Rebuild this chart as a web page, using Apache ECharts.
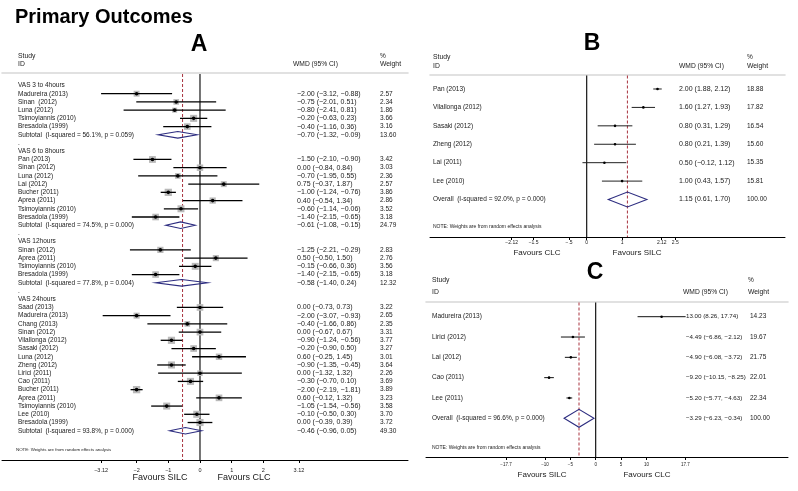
<!DOCTYPE html>
<html><head><meta charset="utf-8">
<script src="https://cdn.jsdelivr.net/npm/echarts@6/dist/echarts.min.js"></script>
<style>html,body{margin:0;padding:0;background:#fff}#c{width:798px;height:491px}</style>
</head><body><div id="c"></div>
<script>
// ---------- Panel A : VAS ----------
const groupsA = ['VAS 3 to 4hours','VAS 6 to 8hours','VAS 12hours','VAS 24hours'];
const studyA = ['Madureira (2013)','Sinan  (2012)','Luna (2012)','Tsimoyiannis (2010)','Bresadola (1999)',
  'Pan (2013)','Sinan (2012)','Luna (2012)','Lai (2012)','Bucher (2011)','Aprea (2011)','Tsimoyiannis (2010)','Bresadola (1999)',
  'Sinan (2012)','Aprea (2011)','Tsimoyiannis (2010)','Bresadola (1999)',
  'Saad (2013)','Madureira (2013)','Chang (2013)','Sinan (2012)','Vilallonga (2012)','Sasaki (2012)','Luna (2012)','Zheng (2012)','Lirici (2011)','Cao (2011)','Bucher (2011)','Aprea (2011)','Tsimoyiannis (2010)','Lee (2010)','Bresadola (1999)'];
const groupOfA = [0,0,0,0,0, 1,1,1,1,1,1,1,1, 2,2,2,2, 3,3,3,3,3,3,3,3,3,3,3,3,3,3,3];
const estA = [-2.00,-0.75,-0.80,-0.20,-0.40, -1.50,0.00,-0.70,0.75,-1.00,0.40,-0.60,-1.40, -1.25,0.50,-0.15,-1.40,
  0.00,-2.00,-0.40,0.00,-0.90,-0.20,0.60,-0.90,0.00,-0.30,-2.00,0.60,-1.05,-0.10,0.00];
const loA = [-3.12,-2.01,-2.41,-0.63,-1.16, -2.10,-0.84,-1.95,-0.37,-1.24,-0.54,-1.14,-2.15, -2.21,-0.50,-0.66,-2.15,
  -0.73,-3.07,-1.66,-0.67,-1.24,-0.90,-0.25,-1.35,-1.32,-0.70,-2.19,-0.12,-1.54,-0.50,-0.39];
const hiA = [-0.88,0.51,0.81,0.23,0.36, -0.90,0.84,0.55,1.87,-0.76,1.34,-0.06,-0.65, -0.29,1.50,0.36,-0.65,
  0.73,-0.93,0.86,0.67,-0.56,0.50,1.45,-0.45,1.32,0.10,-1.81,1.32,-0.56,0.30,0.39];
const wA = [2.57,2.34,1.86,3.66,3.16, 3.42,3.03,2.36,2.57,3.86,2.86,3.52,3.18, 2.83,2.76,3.56,3.18,
  3.22,2.65,2.35,3.31,3.77,3.27,3.01,3.64,2.26,3.69,3.89,3.23,3.58,3.70,3.72];
const subEstA = [-0.70,-0.61,-0.58,-0.46];
const subLoA = [-1.32,-1.08,-1.40,-0.96];
const subHiA = [-0.09,-0.15,0.24,0.05];
const subWA = [13.60,24.79,12.32,49.30];
const subI2A = [56.1,74.5,77.8,93.8];
const subPA = [0.059,0.000,0.004,0.000];
const refLinesA = [0, -0.55];
const ticksA = [-3.12,-2,-1,0,1,2,3.12];

// ---------- Panel B ----------
const studyB = ['Pan (2013)','Vilallonga (2012)','Sasaki (2012)','Zheng (2012)','Lai (2011)','Lee (2010)'];
const estB = [2.00,1.60,0.80,0.80,0.50,1.00];
const loB = [1.88,1.27,0.31,0.21,-0.12,0.43];
const hiB = [2.12,1.93,1.29,1.39,1.12,1.57];
const wB = [18.88,17.82,16.54,15.60,15.35,15.81];
const overallB = [1.15,0.61,1.70,100.00,92.0,0.000]; // est, lo, hi, weight, I2, p
const refLinesB = [0, 1.15];
const ticksB = [-2.12,-1.5,-0.5,0,1,2.12,2.5];

// ---------- Panel C ----------
const studyC = ['Madureira (2013)','Lirici (2012)','Lai (2012)','Cao (2011)','Lee (2011)'];
const estC = [13.00,-4.49,-4.90,-9.20,-5.20];
const loC = [8.26,-6.86,-6.08,-10.15,-5.77];
const hiC = [17.74,-2.12,-3.72,-8.25,-4.63];
const wC = [14.23,19.67,21.75,22.01,22.34];
const overallC = [-3.29,-6.23,-0.34,100.00,96.6,0.000];
const refLinesC = [0, -3.29];
const ticksC = [-17.7,-10,-5,0,5,10,17.7];

// ---------- helpers ----------
const FF = '"Liberation Sans", Arial, sans-serif';
const TXT = '#1a1a1a';
const fmt = v => (v < 0 ? '\u2212' : '') + Math.abs(v).toFixed(2);
const ciText = (e, l, h) => fmt(e) + ' (' + fmt(l) + ', ' + fmt(h) + ')';
const hetText = (lab, i2, p) => lab + '  (I-squared = ' + i2.toFixed(1) + '%, p = ' + p.toFixed(3) + ')';
const tickFmt = v => {
  if (v === 0) return '0';
  let s = String(Math.abs(v));
  if (Math.abs(v) < 1) s = s.replace(/^0/, '');
  return (v < 0 ? '\u2212' : '') + s;
};

// rows for A
const rowsA = []; let r = 0;
groupsA.forEach((g, gi) => {
  rowsA.push({kind:'head', row:r++, label:g});
  studyA.forEach((s, i) => { if (groupOfA[i] === gi) rowsA.push({kind:'study', row:r++, label:s, est:estA[i], lo:loA[i], hi:hiA[i], w:wA[i]}); });
  rowsA.push({kind:'sub', row:r++, label:hetText('Subtotal', subI2A[gi], subPA[gi]), est:subEstA[gi], lo:subLoA[gi], hi:subHiA[gi], w:subWA[gi]});
  if (gi < groupsA.length - 1) rowsA.push({kind:'head', row:r++, label:'.'});
});
function simpleRows(names, est, lo, hi, w, ov) {
  const rows = names.map((s, i) => ({kind:'study', row:i, label:s, est:est[i], lo:lo[i], hi:hi[i], w:w[i]}));
  rows.push({kind:'sub', row:names.length, label:hetText('Overall', ov[4], ov[5]), est:ov[0], lo:ov[1], hi:ov[2], w:ov[3]});
  return rows;
}
const rowsB = simpleRows(studyB, estB, loB, hiB, wB, overallB);
const rowsC = simpleRows(studyC, estC, loC, hiC, wC, overallC);

// panel layout (pixels / styles only)
const P = {
  A: {grid:{left:2, top:73, width:406, height:387}, xr:[-6.246, 6.562], yr:[-1.52, 45.56],
      nameX:18, wmdX:297, wtX:380, box:true, boxK:3.7, ciW:1.3, ciC:'#000', dot:1.8, dh:3.3, fs:6.5, wfs:7,
      tickFs:5.5, tickMargin:7, rows:rowsA, refs:refLinesA, ticks:ticksA},
  B: {grid:{left:430, top:74.5, width:355, height:162.5}, xr:[-4.427, 5.602], yr:[-0.787, 8.035],
      nameX:433, wmdX:679, wtX:747, box:false, ciW:1, ciC:'#222', dot:1.3, dh:7.5, fs:6.5, wfs:7,
      tickFs:5, tickMargin:3, rows:rowsB, refs:refLinesB, ticks:ticksB},
  C: {grid:{left:426, top:301.5, width:362, height:155.5}, xr:[-33.47, 37.93], yr:[-0.748, 6.905],
      nameX:432, wmdX:686, wtX:750, box:false, ciW:1, ciC:'#111', dot:1.3, dh:9, fs:6.5, wfs:6.2,
      tickFs:4.5, tickMargin:5, rows:rowsC, refs:refLinesC, ticks:ticksC}
};

function txt(x, y, text, fs) {
  return {type:'text', x:x, y:y, silent:true,
    style:{text:text, fill:TXT, fontSize:fs, fontFamily:FF, align:'left', verticalAlign:'middle', textAlign:'left', textVerticalAlign:'middle'}};
}

function rowRender(pc) {
  return function (params, api) {
    const rw = pc.rows[params.dataIndex];
    const y = api.coord([0, rw.row])[1];
    const ch = [txt(pc.nameX, y, rw.label, pc.fs)];
    if (rw.kind === 'study' || rw.kind === 'sub') {
      const p = api.coord([rw.est, rw.row]);
      const a = api.coord([rw.lo, rw.row]);
      const b = api.coord([rw.hi, rw.row]);
      if (rw.kind === 'study') {
        if (pc.box) {
          const s = pc.boxK * Math.sqrt(rw.w);
          ch.push({type:'rect', shape:{x:p[0]-s/2, y:y-s/2, width:s, height:s}, style:{fill:'#bababa'}});
        }
        ch.push({type:'line', shape:{x1:a[0], y1:y, x2:b[0], y2:y}, style:{stroke:pc.ciC, lineWidth:pc.ciW}});
        ch.push({type:'circle', shape:{cx:p[0], cy:y, r:pc.dot}, style:{fill:'#000'}});
      } else {
        ch.push({type:'polygon', shape:{points:[[a[0], y], [p[0], y-pc.dh], [b[0], y], [p[0], y+pc.dh]]},
          style:{fill:'rgba(255,255,255,0)', stroke:'#2d2d80', lineWidth:1.1}});
      }
      ch.push(txt(pc.wmdX, y, ciText(rw.est, rw.lo, rw.hi), pc.wfs));
      ch.push(txt(pc.wtX, y, rw.w.toFixed(2), pc.fs));
    }
    return {type:'group', children:ch};
  };
}
function refRender(pc) {
  return function (params, api) {
    const x = api.coord([api.value(0), 0])[0];
    const cs = params.coordSys;
    const st = params.dataIndex === 0 ? {stroke:'#000', lineWidth:1.1}
                                       : {stroke:'#a8323e', lineWidth:1, lineDash:[3, 2]};
    return {type:'line', shape:{x1:x, y1:cs.y + 1, x2:x, y2:cs.y + cs.height}, style:st};
  };
}

const grids = [], xAxes = [], yAxes = [], series = [];
['A','B','C'].forEach((k, gi) => {
  const pc = P[k];
  grids.push(Object.assign({containLabel:false}, pc.grid));
  xAxes.push({gridIndex:gi, type:'value', min:pc.xr[0], max:pc.xr[1], position:'bottom',
    axisLine:{onZero:false, lineStyle:{color:'#000', width:1}},
    axisTick:{customValues:pc.ticks, length:3, lineStyle:{color:'#000', width:1}},
    axisLabel:{customValues:pc.ticks, formatter:tickFmt, fontSize:pc.tickFs, fontFamily:FF, color:TXT, margin:pc.tickMargin},
    splitLine:{show:false}});
  xAxes.push({gridIndex:gi, type:'value', min:pc.xr[0], max:pc.xr[1], position:'top',
    axisLine:{onZero:false, lineStyle:{color:'#d8d8d8', width:1.6}}, axisTick:{show:false},
    axisLabel:{show:false}, splitLine:{show:false}});
  yAxes.push({gridIndex:gi, type:'value', inverse:true, min:pc.yr[0], max:pc.yr[1], show:false, splitLine:{show:false}});
  series.push({type:'custom', xAxisIndex:gi*2, yAxisIndex:gi, silent:true, animation:false, z:1,
    data:pc.refs.map(v => [v, 0]), encode:{x:0, y:1}, renderItem:refRender(pc)});
  series.push({type:'custom', xAxisIndex:gi*2, yAxisIndex:gi, silent:true, animation:false, z:2, clip:false,
    data:pc.rows.map(rw => [rw.est === undefined ? 0 : rw.est, rw.row]), encode:{x:0, y:1}, renderItem:rowRender(pc)});
});

function G(x, y, text, fs, opt) {
  opt = opt || {};
  return {type:'text', x:x, y:y, silent:true,
    style:{text:text, fill:opt.fill || TXT, font:(opt.bold ? 'bold ' : '') + fs + 'px ' + FF,
      textAlign:opt.align || 'left', textVerticalAlign:'middle', align:opt.align || 'left', verticalAlign:'middle'}};
}
const graphics = [
  G(15, 17, 'Primary Outcomes', 20, {bold:true, fill:'#000'}),
  G(199, 45, 'A', 23, {bold:true, fill:'#000', align:'center'}),
  G(592, 44, 'B', 23, {bold:true, fill:'#000', align:'center'}),
  G(595, 273, 'C', 23, {bold:true, fill:'#000', align:'center'}),
  // headers A
  G(18, 56, 'Study', 6.8), G(18, 64, 'ID', 6.8), G(293, 64, 'WMD (95% CI)', 6.7), G(380, 56, '%', 6.5), G(380, 64, 'Weight', 6.8),
  // headers B
  G(433, 57, 'Study', 6.8), G(433, 66, 'ID', 6.8), G(679, 66, 'WMD (95% CI)', 6.7), G(747, 57, '%', 6.5), G(747, 66, 'Weight', 6.8),
  // headers C
  G(432, 280, 'Study', 6.8), G(432, 292.5, 'ID', 6.8), G(683, 292.5, 'WMD (95% CI)', 6.7), G(748, 280, '%', 6.5), G(748, 292.5, 'Weight', 6.8),
  // notes
  G(16, 450, 'NOTE: Weights are from random effects analysis', 4.4),
  G(433, 227, 'NOTE: Weights are from random effects analysis', 5),
  G(432, 448, 'NOTE: Weights are from random effects analysis', 5),
  // favours
  G(160, 478, 'Favours SILC', 9, {align:'center'}), G(244, 478, 'Favours CLC', 9, {align:'center'}),
  G(537, 253, 'Favours CLC', 8, {align:'center'}), G(637, 253, 'Favours SILC', 8, {align:'center'}),
  G(542, 475, 'Favours SILC', 8, {align:'center'}), G(647, 475, 'Favours CLC', 8, {align:'center'})
];

const chart = echarts.init(document.getElementById('c'), null, {renderer:'canvas'});
chart.setOption({
  backgroundColor:'#fff', animation:false,
  textStyle:{fontFamily:FF},
  grid:grids, xAxis:xAxes, yAxis:yAxes, series:series, graphic:graphics
});
</script></body></html>
